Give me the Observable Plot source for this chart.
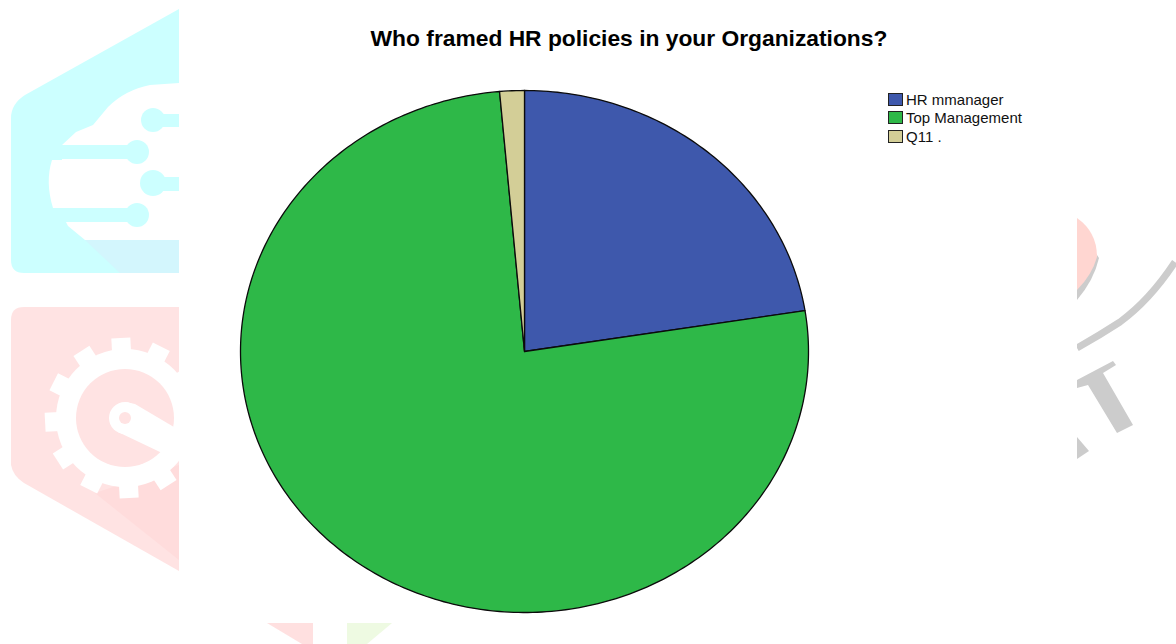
<!DOCTYPE html>
<html>
<head>
<meta charset="utf-8">
<script src="https://cdn.jsdelivr.net/npm/d3@7"></script>
<script src="https://cdn.jsdelivr.net/npm/@observablehq/plot@0.6"></script>
<style>
  html, body { margin: 0; padding: 0; background: #fff; }
  #page { position: relative; width: 1176px; height: 644px; overflow: hidden; font-family: "Liberation Sans", Arial, sans-serif; }
  #page > svg, #chart, #title, #legend { position: absolute; }
  #backdrop { left: 0; top: 0; }
  #chart { left: 0; top: 0; }
  #chart svg { background: transparent; display: block; }
  #title { left: 179px; width: 900px; top: 25px; text-align: center; font-weight: bold; font-size: 22.8px; line-height: 26px; color: #000; }
  #legend { left: 888px; top: 90px; font-size: 15px; color: #111; }
  .row { display: flex; align-items: center; height: 18.5px; }
  .swatch { box-sizing: border-box; width: 15px; height: 13px; border: 1px solid #222; margin-right: 3px; }
</style>
</head>
<body>
<div id="page">
  <!-- Faint brand watermark behind the chart -->
  <svg id="backdrop" width="1176" height="644" viewBox="0 0 1176 644">
    <path fill="#ccffff" d="M179,9 L25,95 Q11,104 11,118 L11,260 Q11,273 24,273 L179,273 Z"/>
    <path fill="#d3f6fd" d="M85,240 L179,240 L179,273 L120,273 Z"/>
    <path fill="#fff" d="M179,83 L150,85 Q125,90 108,107 L93,125 L76,132 L62,145 L62,160 L52,160 Q45,182 53,208 L66,222 L68,226 L85,240 L179,240 Z"/>
    <g fill="#ccffff">
      <rect x="50" y="145" width="87" height="14"/>
      <rect x="52" y="208" width="85" height="14"/>
      <circle cx="137" cy="152" r="12"/>
      <circle cx="137" cy="215" r="12"/>
      <circle cx="153" cy="120" r="12"/>
      <circle cx="153" cy="183" r="13"/>
      <rect x="153" y="114" width="26" height="13"/>
      <rect x="153" y="177" width="26" height="14"/>
    </g>

    <path fill="#ffe3e3" d="M179,307 L24,307 Q11,307 11,320 L11,465 Q13,476 24,483 L179,571 Z"/>
    <path fill="#ffdcdc" d="M95,493 L179,560 L179,465 Z"/>
    <g id="gear"></g>
    <circle cx="125" cy="418" r="49" fill="#ffe3e3"/>
    <circle cx="125" cy="418" r="16" fill="#fff"/>
    <path fill="#fff" d="M125,402 L135,404 L179,430 L179,456 L160,452 L118,432 Z"/>
    <circle cx="125" cy="418" r="6" fill="#ffe3e3"/>

    <path fill="#cccccc" d="M1077,300 L1077,225 L1099,258 Q1094,280 1077,300 Z"/>
    <path fill="#ffd6d1" d="M1077,218 Q1097,232 1097,257 Q1092,275 1077,290 Z"/>
    <path fill="none" stroke="#cccccc" stroke-width="7" d="M1175,262 Q1150,300 1120,322 Q1100,335 1077,348"/>
    <path fill="#cccccc" d="M1077,380 L1113,361 L1116,365 L1103,373 L1133,425 L1117,433 L1088,385 L1077,388 Z"/>
    <path fill="#cccccc" d="M1077,437 L1089,451 L1077,459 Z"/>

    <rect x="179" y="0" width="898" height="623" fill="#fff"/>
    <rect x="179" y="623" width="997" height="21" fill="#fff"/>
    <path fill="#ffe0e0" d="M267,623 L313,623 L313,644 L302,644 Z"/>
    <path fill="#eefae2" d="M347,623 L392,623 L367,644 L347,644 Z"/>
  </svg>

  <div id="chart"></div>
  <div id="title">Who framed HR policies in your Organizations?</div>
  <div id="legend"></div>
</div>

<script>
// Answers to the survey question, as percentages of respondents
const categories = ["HR mmanager", "Top Management", "Q11 ."];
const shares = [22.5, 76.1, 1.4];
const colors = ["#3e58ac", "#2eb848", "#d3ce97"];

// Gear teeth on the watermark, spaced evenly round the wheel
const gear = d3.select("#gear");
gear.append("circle").attr("cx", 125).attr("cy", 418).attr("r", 69).attr("fill", "#fff");
d3.range(12).forEach(i => {
  const a = (i * 30 - 3) * Math.PI / 180;
  gear.append("line")
    .attr("x1", 125 + 60 * Math.cos(a)).attr("y1", 418 + 60 * Math.sin(a))
    .attr("x2", 125 + 80 * Math.cos(a)).attr("y2", 418 + 80 * Math.sin(a))
    .attr("stroke", "#fff").attr("stroke-width", 19);
});

// Turn each share into a closed outline on a unit circle, clockwise from twelve o'clock.
// The x and y scales stretch that circle into the chart's ellipse.
const arcs = d3.pie().sort(null).value(d => d)(shares);
const outline = arcs.flatMap((arc, i) => {
  const steps = Math.max(4, Math.ceil((arc.endAngle - arc.startAngle) * 60));
  const rim = d3.range(steps + 1).map(k => {
    const a = arc.startAngle + (arc.endAngle - arc.startAngle) * k / steps;
    return {answer: categories[i], x: Math.sin(a), y: Math.cos(a)};
  });
  const hub = {answer: categories[i], x: 0, y: 0};
  return [hub, ...rim, hub];
});

const chart = Plot.plot({
  width: 1176,
  height: 644,
  margin: 0,
  x: {domain: [-1, 1], range: [240, 808], axis: null},
  y: {domain: [-1, 1], range: [612, 90], axis: null},
  color: {domain: categories, range: colors},
  style: {background: "transparent"},
  marks: [
    Plot.line(outline, {
      x: "x",
      y: "y",
      z: "answer",
      fill: "answer",
      stroke: "#0b0b0b",
      strokeWidth: 1.3,
      strokeLinejoin: "round"
    })
  ]
});
document.getElementById("chart").append(chart);

// Legend beside the pie
const legend = d3.select("#legend");
categories.forEach((name, i) => {
  const row = legend.append("div").attr("class", "row");
  row.append("div").attr("class", "swatch").style("background", colors[i]);
  row.append("span").text(name);
});
</script>
</body>
</html>
